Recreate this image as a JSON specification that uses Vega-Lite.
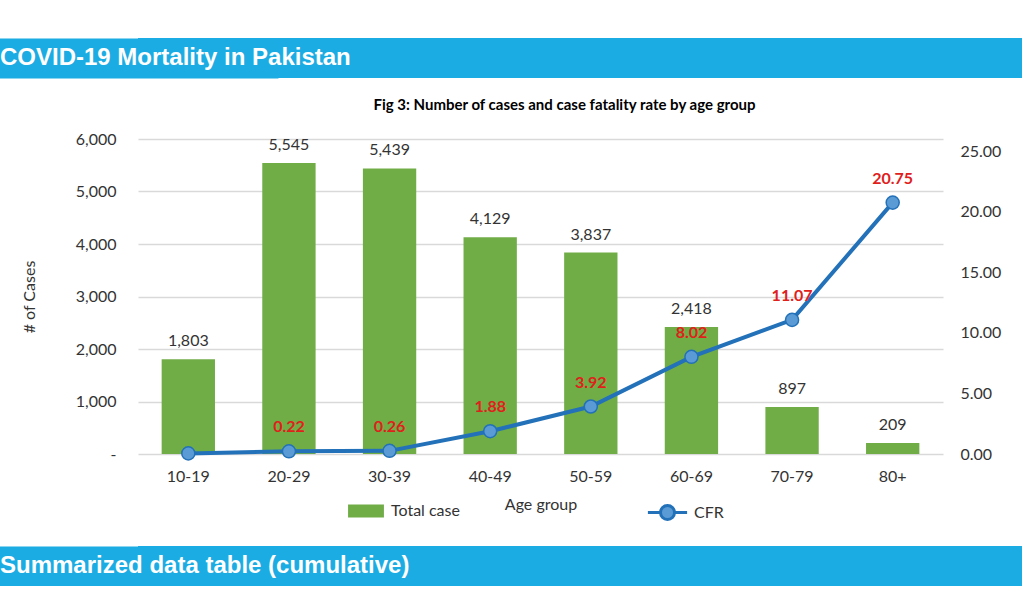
{
  "$schema": "https://vega.github.io/schema/vega-lite/v6.json",
  "padding": {"top": 38, "left": 0, "right": 0, "bottom": 0},
  "background": "white",
  "spacing": 20,
  "resolve": {"legend": {"fill": "independent", "stroke": "independent"}},
  "config": {"view": {"stroke": null}, "font": "Lato"},
  "datasets": {
    "ages": [
      {"age": "10-19", "cases": 1803, "cfr": 0.05, "cfr_label": ""},
      {"age": "20-29", "cases": 5545, "cfr": 0.22, "cfr_label": "0.22"},
      {"age": "30-39", "cases": 5439, "cfr": 0.26, "cfr_label": "0.26"},
      {"age": "40-49", "cases": 4129, "cfr": 1.88, "cfr_label": "1.88"},
      {"age": "50-59", "cases": 3837, "cfr": 3.92, "cfr_label": "3.92"},
      {"age": "60-69", "cases": 2418, "cfr": 8.02, "cfr_label": "8.02"},
      {"age": "70-79", "cases": 897, "cfr": 11.07, "cfr_label": "11.07"},
      {"age": "80+", "cases": 209, "cfr": 20.75, "cfr_label": "20.75"}
    ]
  },
  "vconcat": [
    {
      "width": 884,
      "height": 40,
      "view": {"fill": "#1BACE4", "stroke": null},
      "data": {"values": [{"banner": "COVID-19 Mortality in Pakistan"}]},
      "mark": {"type": "text", "align": "left", "baseline": "middle", "font": "Liberation Sans", "fontWeight": "bold", "fontSize": 24, "color": "white", "dx": -138},
      "encoding": {
        "x": {"datum": 0, "type": "quantitative", "scale": {"domain": [0, 1]}, "axis": null},
        "y": {"datum": 0.5, "type": "quantitative", "scale": {"domain": [0, 1]}, "axis": {"domain": true, "domainColor": "#1BACE4", "domainWidth": 280, "domainCap": "butt", "labels": false, "ticks": false, "grid": false, "title": null}},
        "text": {"field": "banner"}
      }
    },
    {
      "width": 805,
      "height": 315,
      "data": {"name": "ages"},
      "title": {"text": "Fig 3: Number of cases and case fatality rate by age group", "fontSize": 15, "fontWeight": "bold", "font": "Lato", "color": "#000000", "offset": 18, "dx": 24},
      "encoding": {
        "x": {
          "field": "age", "type": "nominal", "sort": null,
          "scale": {"paddingInner": 0.47, "paddingOuter": 0.235},
          "axis": {"title": "Age group", "labelAngle": 0, "domain": false, "ticks": false, "labelPadding": 14, "titlePadding": 12, "labelFontSize": 16, "titleFontSize": 16, "titleFontWeight": "normal", "labelColor": "#333333", "titleColor": "#333333", "labelFont": "Lato", "titleFont": "Lato"}
        }
      },
      "layer": [
        {
          "layer": [
            {
              "mark": {"type": "bar"},
              "encoding": {
                "y": {
                  "field": "cases", "type": "quantitative",
                  "scale": {"domain": [0, 6000]},
                  "axis": {"title": "# of Cases", "orient": "left", "values": [0, 1000, 2000, 3000, 4000, 5000, 6000], "labelExpr": "datum.value == 0 ? '-' : format(datum.value, ',')", "grid": true, "gridColor": "#d9d9d9", "gridWidth": 1.5, "domain": false, "ticks": false, "labelPadding": 22, "titlePadding": 38, "labelFontSize": 16, "titleFontSize": 16, "titleFontWeight": "normal", "labelColor": "#333333", "titleColor": "#333333", "labelFont": "Lato", "titleFont": "Lato"}
                },
                "fill": {
                  "datum": "Total case", "type": "nominal",
                  "scale": {"range": ["#70AD47"]},
                  "legend": {"orient": "none", "legendX": 215, "legendY": 359, "title": null, "symbolType": "M-1.38,-0.5H1.38V0.5H-1.38Z", "symbolSize": 676, "symbolFillColor": "#70AD47", "symbolStrokeWidth": 0, "labelOffset": 12, "labelFontSize": 16, "labelColor": "#333333", "labelFont": "Lato"}
                }
              }
            },
            {
              "mark": {"type": "text", "baseline": "bottom", "dy": -10, "fontSize": 16, "color": "#333333", "font": "Lato"},
              "encoding": {
                "y": {"field": "cases", "type": "quantitative"},
                "text": {"field": "cases", "type": "quantitative", "format": ","}
              }
            }
          ]
        },
        {
          "layer": [
            {
              "mark": {"type": "line", "strokeWidth": 4},
              "encoding": {
                "y": {
                  "field": "cfr", "type": "quantitative",
                  "scale": {"domain": [0, 25]},
                  "axis": {"title": null, "orient": "right", "values": [0, 5, 10, 15, 20, 25], "format": ".2f", "grid": false, "domain": false, "ticks": false, "labelPadding": 17, "labelFontSize": 16, "labelColor": "#333333", "labelFont": "Lato"}
                },
                "stroke": {
                  "datum": "CFR", "type": "nominal",
                  "scale": {"range": ["#2271B9"]},
                  "legend": {"orient": "none", "legendX": 514, "legendY": 358, "title": null, "symbolType": "M-1.4,0H-0.5M0.5,0H1.4M-0.5,0A0.5,0.5,0,1,1,0.5,0A0.5,0.5,0,1,1,-0.5,0Z", "symbolSize": 784, "symbolFillColor": "#5B9BD5", "symbolStrokeWidth": 3, "labelOffset": 11, "labelFontSize": 16, "labelColor": "#333333", "labelFont": "Lato"}
                }
              }
            },
            {
              "mark": {"type": "point", "filled": true, "fill": "#5B9BD5", "stroke": "#2271B9", "strokeWidth": 1.5, "size": 170, "opacity": 1},
              "encoding": {"y": {"field": "cfr", "type": "quantitative"}}
            },
            {
              "mark": {"type": "text", "baseline": "bottom", "dy": -16, "fontSize": 16, "fontWeight": "bold", "color": "#E0201B", "font": "Lato"},
              "encoding": {
                "y": {"field": "cfr", "type": "quantitative"},
                "text": {"field": "cfr_label"}
              }
            }
          ]
        }
      ],
      "resolve": {"scale": {"y": "independent"}}
    },
    {
      "width": 884,
      "height": 40,
      "view": {"fill": "#1BACE4", "stroke": null},
      "data": {"values": [{"banner": "Summarized data table (cumulative)"}]},
      "mark": {"type": "text", "align": "left", "baseline": "middle", "font": "Liberation Sans", "fontWeight": "bold", "fontSize": 24, "color": "white", "dx": -138},
      "encoding": {
        "x": {"datum": 0, "type": "quantitative", "scale": {"domain": [0, 1]}, "axis": null},
        "y": {"datum": 0.5, "type": "quantitative", "scale": {"domain": [0, 1]}, "axis": {"domain": true, "domainColor": "#1BACE4", "domainWidth": 280, "domainCap": "butt", "labels": false, "ticks": false, "grid": false, "title": null}},
        "text": {"field": "banner"}
      }
    }
  ]
}
